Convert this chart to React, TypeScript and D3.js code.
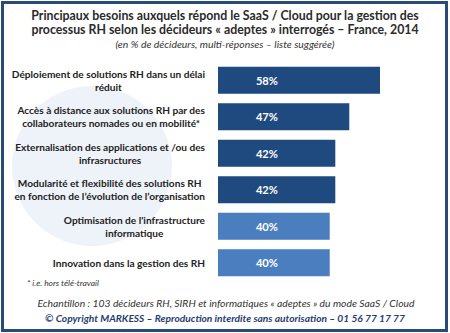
import React from "react";
import * as d3 from "d3";

const categories: string[][] = [
  ["Déploiement de solutions RH dans un délai", "réduit"],
  ["Accès à distance aux solutions RH par des", "collaborateurs nomades ou en mobilité*"],
  ["Externalisation des applications et /ou des", "infrasructures"],
  ["Modularité et flexibilité des solutions RH", "en fonction de l’évolution de l’organisation"],
  ["Optimisation de l'infrastructure", "informatique"],
  ["Innovation dans la gestion des RH"],
];
const values: number[] = [58, 47, 42, 42, 40, 40];
const highlight: boolean[] = [true, true, true, true, false, false];
const titleLines = [
  "Principaux besoins auxquels répond le SaaS / Cloud pour la gestion des",
  "processus RH selon les décideurs « adeptes » interrogés – France, 2014",
];
const subtitle = "(en % de décideurs, multi-réponses – liste suggérée)";
const footnote = "* i.e. hors télé-travail";
const sample = "Echantillon : 103 décideurs RH, SIRH et informatiques « adeptes » du mode SaaS / Cloud";
const copyright = "© Copyright MARKESS – Reproduction interdite sans autorisation – 01 56 77 17 77";

const W = 450;
const H = 333;
const FONT = "Lato, 'Open Sans', sans-serif";

let ctx: CanvasRenderingContext2D | null = null;
function measure(text: string, style: string, weight: string, size: number): number {
  if (!ctx) ctx = document.createElement("canvas").getContext("2d");
  if (!ctx) return text.length * size * 0.5;
  ctx.font = `${style} ${weight} ${size}px Lato`;
  return ctx.measureText(text).width;
}
function fit(text: string, style: string, weight: string, target: number): number {
  const w = measure(text, style, weight, 100);
  return (100 * target) / w;
}

export default function App() {
  const x = d3.scaleLinear().domain([0, 58]).range([218, 380]);
  const y = d3
    .scaleBand<number>()
    .domain(values.map((_, i) => i))
    .range([62, 281])
    .paddingInner(0.26)
    .paddingOuter(0.13);
  const labelFontSize = fit("en fonction de l’évolution de l’organisation", "normal", "bold", 191);
  const labelRight = 205;
  const titleSize = fit(titleLines[0], "normal", "bold", 388);
  const subSize = Math.min(10.4, fit(subtitle, "italic", "normal", 260));
  const sampleSize = fit(sample, "italic", "normal", 377);
  const copySize = fit(copyright, "italic", "bold", 360);
  const footSize = fit(footnote, "italic", "normal", 72);
  const valSize = fit("58%", "normal", "bold", 22);

  return (
    <svg
      width={W}
      height={H}
      style={{ position: "fixed", left: 0, top: 0, background: "#fff" }}
      fontFamily={FONT}
    >
      <rect x={0} y={0} width={W} height={H} fill="#fff" />
      <circle cx={92} cy={166} r={80} fill="#EEF3F9" />
      <rect x={2.5} y={2.5} width={444} height={328} fill="none" stroke="#284B78" strokeWidth={3} />
      {titleLines.map((t, i) => (
        <text key={i} x={225} y={20 + i * 14} textAnchor="middle" fontSize={titleSize} fontWeight="bold" fill="#2b2b2b">
          {t}
        </text>
      ))}
      <text x={225} y={47.5} textAnchor="middle" fontSize={subSize} fontStyle="italic" fill="#333">
        {subtitle}
      </text>
      {values.map((v, i) => {
        const lines = categories[i];
        const bw = Math.max(...lines.map((l) => measure(l, "normal", "bold", labelFontSize)));
        const cx = labelRight - bw / 2;
        const cy = (y(i) as number) + y.bandwidth() / 2;
        const lh = 13;
        const y0 = cy - ((lines.length - 1) * lh) / 2 + 4;
        return (
          <g key={i}>
            <rect
              x={x(0)}
              y={y(i)}
              width={x(v) - x(0)}
              height={y.bandwidth()}
              fill={highlight[i] ? "#1F4A80" : "#4A7EBF"}
            />
            <text
              x={x(17.5)}
              y={cy + 4.5}
              textAnchor="middle"
              fontSize={valSize}
              fontWeight="bold"
              fill="#fff"
            >
              {`${v}%`}
            </text>
            {lines.map((l, j) => (
              <text
                key={j}
                x={cx}
                y={y0 + j * lh}
                textAnchor="middle"
                fontSize={labelFontSize}
                fontWeight="bold"
                fill="#222"
              >
                {l}
              </text>
            ))}
          </g>
        );
      })}
      <text x={27} y={286} fontSize={footSize} fontStyle="italic" fill="#333">
        {footnote}
      </text>
      <text x={226} y={306.5} textAnchor="middle" fontSize={sampleSize} fontStyle="italic" fill="#333">
        {sample}
      </text>
      <text x={225} y={322} textAnchor="middle" fontSize={copySize} fontStyle="italic" fontWeight="bold" fill="#1F3E6E">
        {copyright}
      </text>
    </svg>
  );
}
